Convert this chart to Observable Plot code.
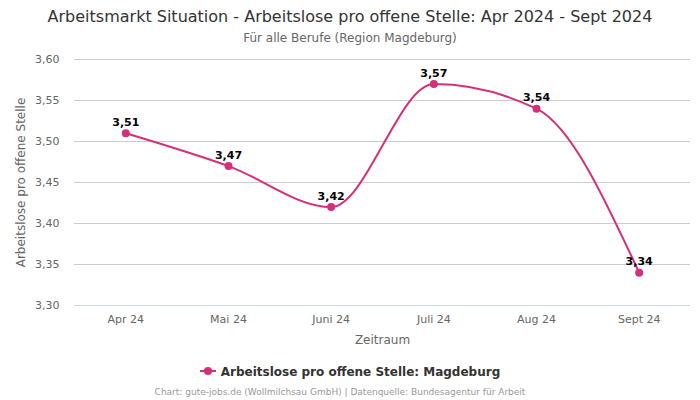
<!DOCTYPE html>
<html><head><meta charset="utf-8">
<script src="https://cdn.jsdelivr.net/npm/d3@7"></script>
<script src="https://cdn.jsdelivr.net/npm/@observablehq/plot@0.6"></script>
<style>
body{margin:0;background:#fff;font-family:"DejaVu Sans",sans-serif;}
#wrap{position:relative;width:700px;height:400px;overflow:hidden;}
#title{position:absolute;top:7px;left:0;width:700px;text-align:center;font-size:16px;color:#333;}
#sub{position:absolute;top:31px;left:0;width:700px;text-align:center;font-size:12px;color:#666;}
#chart{position:absolute;top:48px;left:0;}
#legend{position:absolute;top:365px;left:0;width:700px;text-align:center;font-size:12px;font-weight:bold;color:#333;}
#caption{position:absolute;top:387px;left:-10px;width:700px;text-align:center;font-size:9px;color:#999;}
.sw{display:inline-block;position:relative;width:16px;height:10px;vertical-align:middle;margin-right:5px;margin-top:-3px}
.sw:before{content:"";position:absolute;left:0;top:4px;width:16px;height:2px;background:#d4307a}
.sw:after{content:"";position:absolute;left:4px;top:1px;width:8px;height:8px;border-radius:50%;background:#d4307a}
</style></head><body>
<div id="wrap">
<div id="title">Arbeitsmarkt Situation - Arbeitslose pro offene Stelle: Apr 2024 - Sept 2024</div>
<div id="sub">Für alle Berufe (Region Magdeburg)</div>
<div id="chart"></div>
<div id="legend"><span class="sw"></span>Arbeitslose pro offene Stelle: Magdeburg</div>
<div id="caption">Chart: gute-jobs.de (Wollmilchsau GmbH) | Datenquelle: Bundesagentur für Arbeit</div>
</div>
<script>
const months = ["Apr 24","Mai 24","Juni 24","Juli 24","Aug 24","Sept 24"];
const values = [3.51, 3.47, 3.42, 3.57, 3.54, 3.34];
const yTicks = [3.30, 3.35, 3.40, 3.45, 3.50, 3.55, 3.60];

const de = d3.formatLocale({decimal:",", thousands:".", grouping:[3], currency:["","€"]});
const f2 = de.format(".2f");
const data = months.map((m,i)=>({m, v: values[i]}));
const color = "#d4307a";

const plot = Plot.plot({
  width: 700, height: 307,
  marginLeft: 74, marginRight: 10, marginTop: 11, marginBottom: 50,
  style: {fontFamily: "DejaVu Sans, sans-serif", fontSize: "11px", color: "#666", background: "transparent"},
  x: {type: "point", domain: months, padding: 0.5, round: false, label: null},
  y: {domain: [3.30, 3.60], label: null},
  marks: [
    Plot.ruleY(yTicks.filter(t=>t>3.3), {y: d=>d, stroke: "#cccccc", strokeOpacity: 1}),
    Plot.ruleY([3.30], {stroke: "#ccd6eb"}),
    Plot.axisY(yTicks, {tickSize: 0, tickPadding: 15, tickFormat: f2, fill: "#666", fontSize: 11, label: null}),
    Plot.axisX({tickSize: 0, tickPadding: 10, fill: "#666", fontSize: 11, label: null}),
    Plot.text(["Zeitraum"], {frameAnchor: "bottom", dy: 38, fill: "#666", fontSize: 12}),
    Plot.text(["Arbeitslose pro offene Stelle"], {frameAnchor: "left", textAnchor: "middle", rotate: -90, dx: -53, fill: "#666", fontSize: 12}),
    Plot.line(data, {x: "m", y: "v", stroke: color, strokeWidth: 2, curve: "monotone-x"}),
    Plot.dot(data, {x: "m", y: "v", fill: color, r: 4}),
    Plot.text(data, {x: "m", y: "v", text: d=>f2(d.v), dy: -11, fill: "#000", fontWeight: "bold", fontSize: 11})
  ]
});
document.getElementById("chart").appendChild(plot);
</script>
</body></html>
